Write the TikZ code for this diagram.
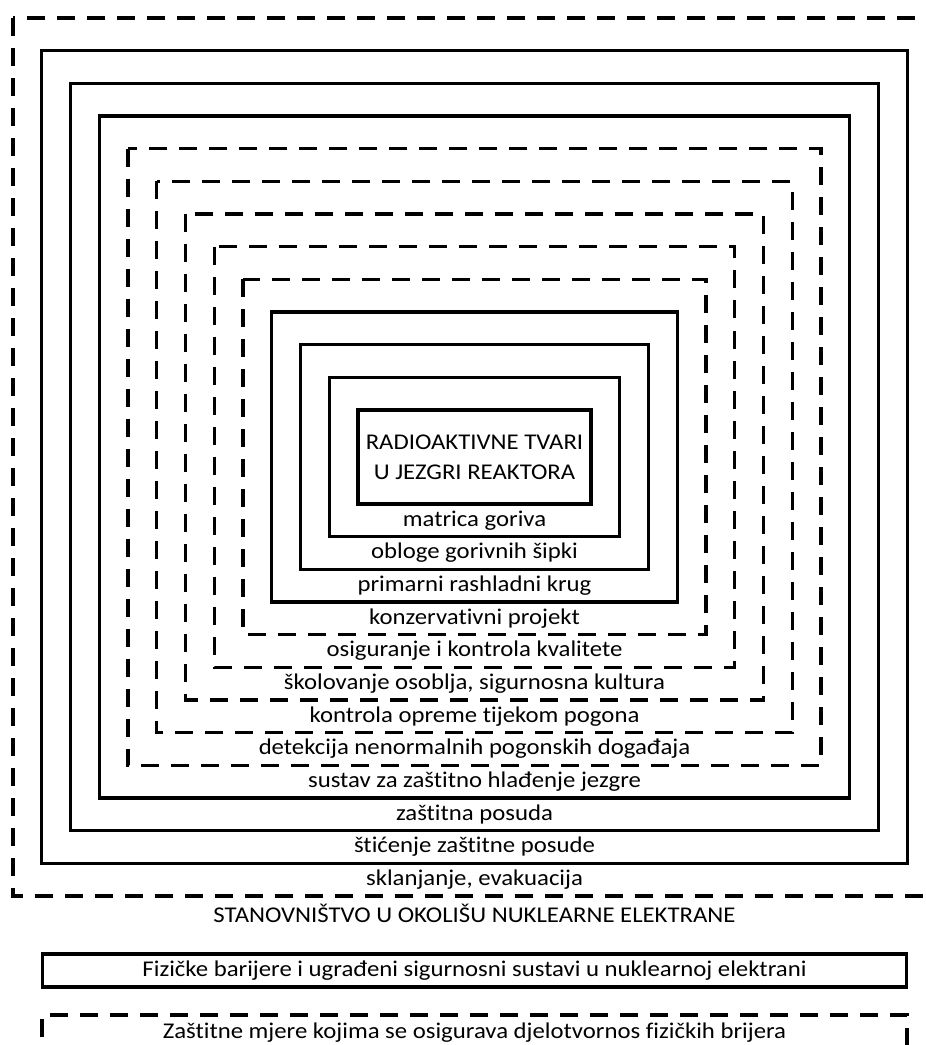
\documentclass[tikz,border=0pt]{standalone}
\usepackage{fontspec}
\setmainfont{Carlito}[FakeStretch=1.1, Ligatures=NoCommon]

\tikzset{
  barrier/.style={line width=3.2pt},
  measure/.style={line width=3.2pt, dash pattern=on 18pt off 12pt},
  ringlabel/.style={font=\fontsize{22.5}{30}\selectfont, inner sep=0pt},
}

\begin{document}
\begin{tikzpicture}[x=1pt,y=-1pt,line join=miter]

\useasboundingbox (0,0) rectangle (926,1045);

% centre of the nested boxes
\coordinate (c) at (474.5,457);

% nested boxes, outer to inner
\foreach \i/\sty in {0/measure,1/barrier,2/barrier,3/barrier,
                     4/measure,5/measure,6/measure,7/measure,8/measure,
                     9/barrier,10/barrier,11/barrier,12/barrier}{
    \pgfmathsetmacro\hw{461.5-28.75*\i}
    \pgfmathsetmacro\hh{439-32.667*\i}
    \draw[\sty] (474.5-\hw,457-\hh) rectangle (474.5+\hw,457+\hh);
}

% core
\node[ringlabel, align=center] (core) at (c)
    {RADIOAKTIVNE TVARI\\U JEZGRI REAKTORA};

% ring labels, outer to inner
\foreach \i/\txt in {0/{sklanjanje, evakuacija},
                     1/{štićenje zaštitne posude},
                     2/{zaštitna posuda},
                     3/{sustav za zaštitno hlađenje jezgre},
                     4/{detekcija nenormalnih pogonskih događaja},
                     5/{kontrola opreme tijekom pogona},
                     6/{školovanje osoblja, sigurnosna kultura},
                     7/{osiguranje i kontrola kvalitete},
                     8/{konzervativni projekt},
                     9/{primarni rashladni krug},
                     10/{obloge gorivnih šipki},
                     11/{matrica goriva}}{
    \node[ringlabel] (lab\i) at (474.5,879.7-32.667*\i) {\txt};
}

\node[ringlabel] (people) at (474.5,913) {STANOVNIŠTVO U OKOLIŠU NUKLEARNE ELEKTRANE};

% legend
\node[ringlabel, barrier, draw, minimum width=864pt, minimum height=33pt]
    (legbarrier) at (474.5,970.5)
    {Fizičke barijere i ugrađeni sigurnosni sustavi u nuklearnoj elektrani};
\node[ringlabel, measure, draw, minimum width=865pt, minimum height=36pt]
    (legmeasure) at (474.5,1033)
    {Zaštitne mjere kojima se osigurava djelotvornos fizičkih brijera};

\end{tikzpicture}
\end{document}
